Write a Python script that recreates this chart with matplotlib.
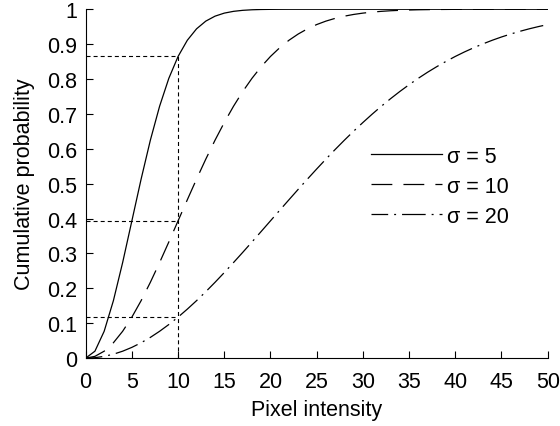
import matplotlib
matplotlib.use("Agg")
import matplotlib.pyplot as plt

# values
x = list(range(0, 51))
sig5 = [0, 0.0198, 0.0769, 0.1647, 0.2739, 0.3935, 0.5132, 0.6247, 0.7220, 0.8021,
        0.8647, 0.9111, 0.9439, 0.9660, 0.9802, 0.9889, 0.9940, 0.9969, 0.9985, 0.9993,
        0.9997, 0.9999, 1, 1, 1, 1, 1, 1, 1, 1,
        1, 1, 1, 1, 1, 1, 1, 1, 1, 1,
        1, 1, 1, 1, 1, 1, 1, 1, 1, 1, 1]
sig10 = [0, 0.0050, 0.0198, 0.0440, 0.0769, 0.1175, 0.1647, 0.2173, 0.2739, 0.3330,
         0.3935, 0.4539, 0.5132, 0.5704, 0.6247, 0.6753, 0.7220, 0.7643, 0.8021, 0.8355,
         0.8647, 0.8897, 0.9111, 0.9290, 0.9439, 0.9561, 0.9660, 0.9739, 0.9802, 0.9851,
         0.9889, 0.9918, 0.9940, 0.9957, 0.9969, 0.9978, 0.9985, 0.9989, 0.9993, 0.9995,
         0.9997, 0.9998, 0.9999, 0.9999, 1, 1, 1, 1, 1, 1, 1]
sig20 = [0, 0.0012, 0.0050, 0.0112, 0.0198, 0.0308, 0.0440, 0.0594, 0.0769, 0.0963,
         0.1175, 0.1404, 0.1647, 0.1904, 0.2173, 0.2452, 0.2739, 0.3032, 0.3330, 0.3632,
         0.3935, 0.4238, 0.4539, 0.4838, 0.5132, 0.5421, 0.5704, 0.5980, 0.6247, 0.6505,
         0.6753, 0.6992, 0.7220, 0.7437, 0.7643, 0.7837, 0.8021, 0.8194, 0.8355, 0.8506,
         0.8647, 0.8777, 0.8897, 0.9008, 0.9111, 0.9205, 0.9290, 0.9368, 0.9439, 0.9503, 0.9561]
labels = ["σ = 5", "σ = 10", "σ = 20"]

# reference point x = 10 and the curve values there
x_ref = 10
y_ref = [0.8647, 0.3935, 0.1175]

plt.rcParams["font.family"] = ["Liberation Sans", "DejaVu Sans"]
plt.rcParams["lines.scale_dashes"] = False
fs = 15.5

fig = plt.figure(figsize=(5.6, 4.27), dpi=100)
ax = fig.add_axes([0.153, 0.159, 0.825, 0.817])

ax.plot(x, sig5, color="black", lw=0.9, label=labels[0])
ax.plot(x, sig10, color="black", lw=0.9, linestyle=(0, (15, 8)), label=labels[1])
ax.plot(x, sig20, color="black", lw=0.9, linestyle=(5, (17, 4.3, 1.4, 4.3)), label=labels[2])

# dotted guides
for yv in y_ref:
    ax.plot([0, x_ref], [yv, yv], color="black", lw=0.8, linestyle=(0, (2.9, 2.2)))
ax.plot([x_ref, x_ref], [0, max(y_ref)], color="black", lw=0.8, linestyle=(0, (2.9, 2.2)))

ax.set_xlim(0, 50)
ax.set_ylim(0, 1)
ax.set_xticks(range(0, 51, 5))
ax.set_yticks([i / 10 for i in range(11)])
ax.set_yticklabels(["0", "0.1", "0.2", "0.3", "0.4", "0.5", "0.6", "0.7", "0.8", "0.9", "1"])
ax.tick_params(direction="in", length=5, width=0.8, labelsize=fs)
ax.tick_params(axis="x", pad=9)
ax.tick_params(axis="y", pad=6)
ax.spines["top"].set_visible(False)
ax.spines["right"].set_visible(False)
for s in ["left", "bottom"]:
    ax.spines[s].set_linewidth(0.8)

ax.set_xlabel("Pixel intensity", fontsize=fs, labelpad=5)
ax.set_ylabel("Cumulative probability", fontsize=fs, labelpad=9)

ax.legend(loc="upper left", bbox_to_anchor=(0.594, 0.639), frameon=False, fontsize=fs,
          handlelength=3.3, handletextpad=0.25, labelspacing=0.41, borderpad=0)

fig.savefig("out.png", dpi=100)
